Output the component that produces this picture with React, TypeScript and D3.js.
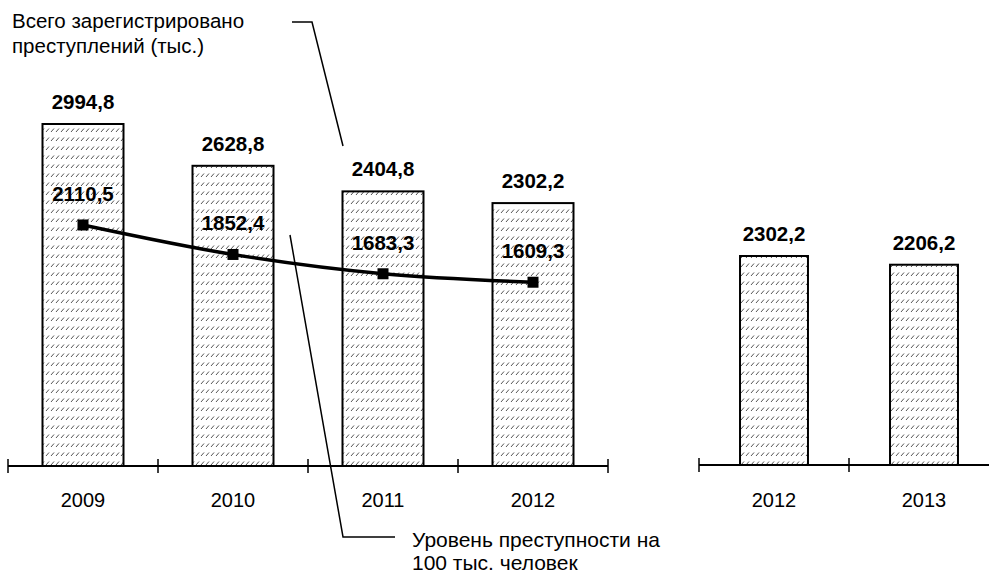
import * as d3 from "d3";

const years = ["2009", "2010", "2011", "2012"];
const totalCrimes = [2994.8, 2628.8, 2404.8, 2302.2];
const crimeRate = [2110.5, 1852.4, 1683.3, 1609.3];

const years2 = ["2012", "2013"];
const totalCrimes2 = [2302.2, 2206.2];

const fmt = (v: number) => v.toFixed(1).replace(".", ",");

export default function App() {
  const W = 989;
  const H = 573;
  const font = "'Liberation Sans', Arial, sans-serif";

  const x = d3.scaleBand().domain(years).range([8, 608]).paddingInner(0.46).paddingOuter(0.23);
  const y = d3.scaleLinear().domain([0, 2994.8]).range([466, 124]);

  const x2 = d3.scaleBand().domain(years2).range([699, 999]).paddingInner(0.547).paddingOuter(0.2735);
  const y2 = d3.scaleLinear().domain([0, 2302.2]).range([465, 256]);

  const cx = (k: string) => x(k)! + x.bandwidth() / 2;
  const cx2 = (k: string) => x2(k)! + x2.bandwidth() / 2;

  const line = d3
    .line<number>()
    .x((_, i) => cx(years[i]))
    .y((d) => y(d))
    .curve(d3.curveMonotoneX);

  const ticks1 = d3.range(years.length + 1).map((i) => 8 + i * x.step());
  const ticks2 = d3.range(years2.length + 1).map((i) => 699 + i * x2.step());

  return (
    <svg width={W} height={H} style={{ position: "absolute", left: 0, top: 0, background: "#fff" }} fontFamily={font}>
      <defs>
        <pattern id="hatch" width="5" height="9" patternUnits="userSpaceOnUse">
          <rect width="5" height="9" fill="#fff" />
          <line x1="1" y1="6" x2="4" y2="2.5" stroke="#555" strokeWidth="1" />
        </pattern>
      </defs>

      {/* left chart bars */}
      {years.map((k, i) => (
        <g key={"b" + k}>
          <rect
            x={x(k)}
            y={y(totalCrimes[i])}
            width={x.bandwidth()}
            height={y(0) - y(totalCrimes[i])}
            fill="url(#hatch)"
            stroke="#000"
            strokeWidth={2}
          />
          <text x={cx(k)} y={y(totalCrimes[i]) - 15} textAnchor="middle" fontSize={20.5} fontWeight="bold">
            {fmt(totalCrimes[i])}
          </text>
          <text x={cx(k)} y={507} textAnchor="middle" fontSize={20}>
            {k}
          </text>
        </g>
      ))}

      {/* left axis */}
      <line x1={8} x2={608} y1={466} y2={466} stroke="#000" strokeWidth={2} />
      {ticks1.map((t, i) => (
        <line key={"t" + i} x1={t} x2={t} y1={459} y2={473} stroke="#000" strokeWidth={1.5} />
      ))}

      {/* crime rate line */}
      <path d={line(crimeRate)!} fill="none" stroke="#000" strokeWidth={3.5} />
      {crimeRate.map((v, i) => (
        <rect key={"m" + i} x={cx(years[i]) - 5.5} y={y(v) - 5.5} width={11} height={11} fill="#000" />
      ))}
      {crimeRate.map((v, i) => (
        <text key={"l" + i} x={cx(years[i])} y={y(v) - 24} textAnchor="middle" fontSize={20.5} fontWeight="bold">
          {fmt(v)}
        </text>
      ))}

      {/* right chart */}
      {years2.map((k, i) => (
        <g key={"r" + k}>
          <rect
            x={x2(k)}
            y={y2(totalCrimes2[i])}
            width={x2.bandwidth()}
            height={y2(0) - y2(totalCrimes2[i])}
            fill="url(#hatch)"
            stroke="#000"
            strokeWidth={2}
          />
          <text x={cx2(k)} y={y2(totalCrimes2[i]) - 15} textAnchor="middle" fontSize={20.5} fontWeight="bold">
            {fmt(totalCrimes2[i])}
          </text>
          <text x={cx2(k)} y={507} textAnchor="middle" fontSize={20}>
            {k}
          </text>
        </g>
      ))}
      <line x1={699} x2={999} y1={465} y2={465} stroke="#000" strokeWidth={2} />
      {ticks2.map((t, i) => (
        <line key={"t2" + i} x1={t} x2={t} y1={458} y2={472} stroke="#000" strokeWidth={1.5} />
      ))}

      {/* annotations */}
      <text x={12} y={28} fontSize={20.5}>
        Всего зарегистрировано
      </text>
      <text x={12} y={53} fontSize={20.5}>
        преступлений (тыс.)
      </text>
      <polyline points="292,22 312,22 343,146" fill="none" stroke="#000" strokeWidth={1.5} />

      <polyline points="290,235 343,537 395,537" fill="none" stroke="#000" strokeWidth={1.5} />
      <text x={412} y={547} fontSize={21}>
        Уровень преступности на
      </text>
      <text x={412} y={570} fontSize={21}>
        100 тыс. человек
      </text>
    </svg>
  );
}
